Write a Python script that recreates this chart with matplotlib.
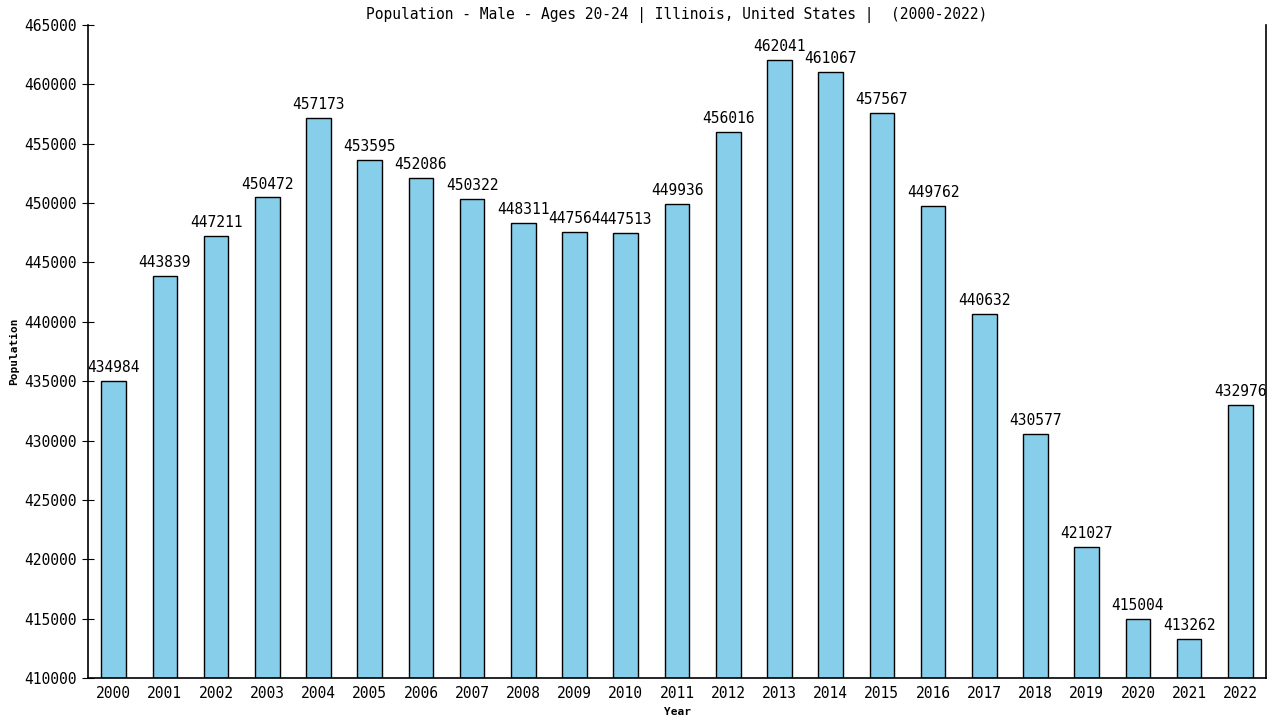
import matplotlib
matplotlib.use("Agg")
import matplotlib.pyplot as plt


# -----------------------------
# DATA
# -----------------------------
years = [str(y) for y in range(2000, 2023)]
population = [434984, 443839, 447211, 450472, 457173, 453595, 452086, 450322,
              448311, 447564, 447513, 449936, 456016, 462041, 461067, 457567,
              449762, 440632, 430577, 421027, 415004, 413262, 432976]
y_ticks = list(range(410000, 465001, 5000))

title = "Population - Male - Ages 20-24 | Illinois, United States |  (2000-2022)"


# -----------------------------
# PLOT
# -----------------------------
plt.rcParams['font.family'] = ['DejaVu Sans Mono']

fig = plt.figure(figsize=(12.8, 7.2), dpi=100)
ax = fig.add_axes([88 / 1280, 1 - 678 / 720, (1266 - 88) / 1280, (678 - 25) / 720])

x = list(range(len(years)))
ax.bar(x, [p - 410000 for p in population], bottom=410000, width=0.48,
       color="#87ceeb", edgecolor="black", linewidth=1)

for i, v in enumerate(population):
    ax.text(i, v + 500, str(v), ha='center', va='bottom', fontsize=10.5)

ax.set_xlim(-0.5, len(years) - 0.5)
ax.set_ylim(410000, 465000)
ax.set_xticks(x)
ax.set_xticklabels(years, fontsize=10.5)
ax.set_yticks(y_ticks)
ax.set_yticklabels([str(t) for t in y_ticks], fontsize=10.5)
ax.tick_params(axis='x', length=0, pad=6)
ax.tick_params(axis='y', direction='inout', length=8, pad=4)

ax.spines['top'].set_visible(False)
for s in ['left', 'right', 'bottom']:
    ax.spines[s].set_linewidth(1.2)

ax.set_xlabel("Year", fontsize=8, fontweight='bold', labelpad=4)
ax.set_ylabel("Population", fontsize=8, fontweight='bold', labelpad=4)
ax.set_title(title, fontsize=10.5, pad=4)

fig.savefig("out.png", dpi=100)
